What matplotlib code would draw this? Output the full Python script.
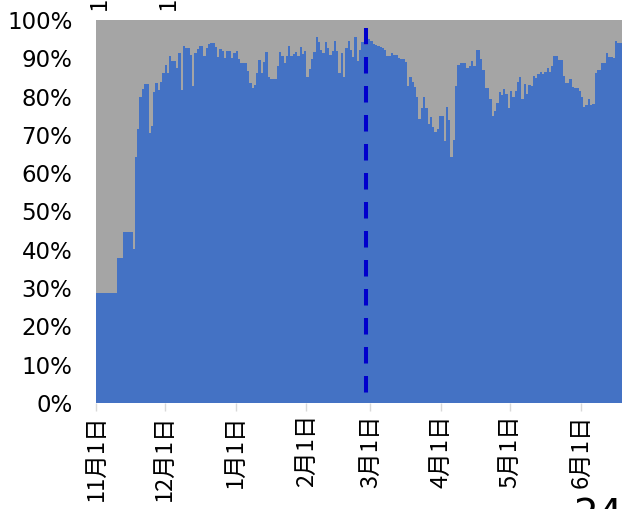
import numpy as np
import pandas as pd
import matplotlib
matplotlib.use("Agg")
import matplotlib.pyplot as plt

# ── Data: daily share (%) of the blue series, Nov 1 → Jun 18 ─────────────────
nov = [28.8, 28.8, 28.8, 28.8, 28.8, 28.8, 28.8, 28.8, 28.8, 37.9,
       37.9, 37.9, 44.6, 44.6, 44.6, 44.6, 40.2, 64.3, 71.5, 79.9,
       82.0, 83.3, 83.3, 70.5, 72.4, 81.2, 83.6, 81.7, 83.9, 86.1]
dec = [88.3, 86.2, 90.7, 89.4, 89.4, 87.4, 91.3, 81.7, 93.2, 92.6,
       92.6, 90.9, 82.8, 91.3, 92.4, 93.3, 93.3, 90.6, 92.6, 93.7,
       94.1, 94.1, 93.0, 90.4, 92.4, 92.0, 90.2, 91.9, 91.9, 90.2, 91.3]
jan = [91.9, 89.7, 88.9, 88.9, 88.9, 86.8, 83.6, 82.3, 83.0, 86.2,
       89.6, 86.1, 89.1, 91.6, 85.0, 84.5, 84.5, 84.5, 88.0, 91.6,
       90.6, 88.7, 90.6, 93.3, 90.6, 91.0, 91.6, 90.7, 93.0, 91.1, 92.0]
feb = [85.2, 87.2, 89.7, 91.6, 95.6, 94.3, 92.2, 91.3, 94.3, 92.6,
       90.9, 92.0, 94.6, 92.0, 86.1, 91.5, 85.0, 92.6, 94.6, 92.2,
       90.4, 95.6, 89.4, 92.2, 94.3, 93.5, 93.5, 95.0]
mar = [94.6, 93.7, 93.5, 93.2, 93.0, 92.6, 92.2, 90.6, 90.6, 91.3,
       90.9, 90.9, 90.2, 89.7, 89.7, 89.1, 82.8, 85.2, 83.9, 82.6,
       80.0, 74.1, 76.9, 79.8, 76.9, 72.8, 74.8, 72.1, 70.7, 71.5, 74.9]
apr = [74.9, 68.5, 77.2, 73.9, 64.3, 68.7, 82.8, 88.3, 88.7, 88.9,
       88.9, 87.4, 88.0, 89.4, 88.0, 92.2, 92.2, 89.7, 86.9, 82.2,
       82.2, 79.3, 75.0, 76.3, 78.3, 81.3, 80.4, 81.9, 80.7, 77.1]
may = [81.5, 80.0, 81.5, 83.7, 85.2, 79.4, 83.2, 80.6, 83.0, 82.8,
       85.4, 84.8, 85.8, 86.5, 86.0, 86.5, 87.5, 86.5, 88.0, 90.6,
       90.6, 89.6, 89.6, 85.5, 83.5, 83.5, 84.6, 82.5, 82.2, 82.2, 81.5]
jun = [79.8, 77.2, 77.8, 79.4, 77.9, 78.0, 86.1, 87.0, 87.0, 88.8,
       88.8, 91.4, 90.3, 90.3, 90.0, 94.6, 94.0, 94.0]

start_date = "2022-11-01"
marker_date = "2023-02-27"      # dashed reference line
marker_top = 97.8               # % where the dashed line stops

blue = "#4472C4"
grey = "#A5A5A5"
dash_blue = "#0000CC"
cjk = ["Noto Sans CJK JP", "DejaVu Sans"]

# ── Build series ─────────────────────────────────────────────────────────────
share = np.array(nov + dec + jan + feb + mar + apr + may + jun)
dates = pd.date_range(start_date, periods=len(share), freq="D")
edges = np.arange(len(share) + 1)

plt.rcParams["font.family"] = ["DejaVu Sans"]
fig = plt.figure(figsize=(6.29, 5.09), dpi=100)
ax = fig.add_axes([96 / 629, 106 / 509, 526 / 629, 383 / 509])

ax.stairs(share, edges, baseline=0, fill=True, color=blue, lw=0)
ax.stairs(np.full(len(share), 100.0), edges, baseline=share,
          fill=True, color=grey, lw=0)

# dashed marker line
mx = (pd.Timestamp(marker_date) - dates[0]).days + 0.1
ax.plot([mx, mx], [marker_top, 0], color=dash_blue, lw=2.9,
        linestyle=(0, (4.1, 3.1)), solid_capstyle="butt", zorder=5)

ax.set_xlim(0, len(share))
ax.set_ylim(0, 100)

# ── Axes styling ─────────────────────────────────────────────────────────────
for s in ax.spines.values():
    s.set_visible(False)

yt = np.arange(0, 101, 10)
ax.set_yticks(yt)
ax.set_yticklabels([f"{v}%" for v in yt], fontsize=16.5, color="#000000")
ax.tick_params(axis="y", length=0, pad=17)

month_pos = np.where(dates.is_month_start)[0]
ax.set_xticks(month_pos)
ax.set_xticklabels([f"{dates[i].month}月{dates[i].day}日" for i in month_pos],
                   rotation=90, fontsize=17, va="top", ha="center", family=cjk)
ax.tick_params(axis="x", length=6, width=1, color="#D9D9D9", pad=2)

# clipped remnants of neighbouring labels at figure edges
for xp, lab in [(99, "11月1日"), (168, "12月1日")]:
    fig.text(xp / 629, 1 - 10 / 509, lab, rotation=90, ha="center", va="bottom",
             fontsize=17, family=cjk)
fig.text(573 / 629, 1 - 497 / 509, "24", ha="left", va="top", fontsize=28)

fig.savefig("out.png", dpi=100)
